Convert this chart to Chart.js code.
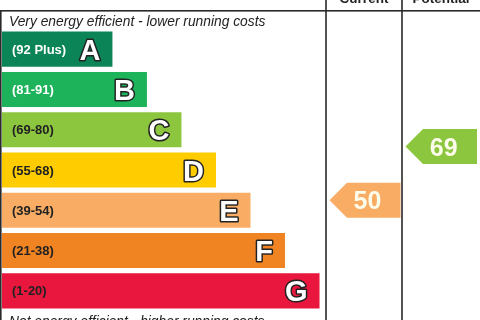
<!DOCTYPE html>
<html>
<head>
<meta charset="utf-8">
<script src="https://cdn.jsdelivr.net/npm/chart.js@4/dist/chart.umd.min.js"></script>
<style>
  html, body { margin: 0; padding: 0; background: #fff; }
  #epc { display: block; }
</style>
</head>
<body>
<canvas id="epc" width="480" height="320"></canvas>
<script>
/* EPC rating chart: bands A-G, current + potential arrows */

const bands = ['A', 'B', 'C', 'D', 'E', 'F', 'G'];
const ranges = ['(92 Plus)', '(81-91)', '(69-80)', '(55-68)', '(39-54)', '(21-38)', '(1-20)'];
const bandMin = [92, 81, 69, 55, 39, 21, 1];
const bandMax = [100, 91, 80, 68, 54, 38, 20];
const barLengths = [32, 42, 52, 62, 72, 82, 92];
const bandColors = ['#0b8457', '#1db35b', '#8cc63f', '#ffcc00', '#f9ac64', '#f08423', '#e9173d'];
const labelColors = ['#ffffff', '#ffffff', '#222222', '#222222', '#222222', '#222222', '#222222'];
const headers = ['Current', 'Potential'];
const scores = [50, 69];   // current, potential

const FONT = "'Liberation Sans', Arial, sans-serif";

function bandOf(score) {
  return bandMin.findIndex((m, i) => score >= m && score <= bandMax[i]);
}

const epcPlugin = {
  id: 'epc',
  afterDatasetsDraw(chart) {
    const ctx = chart.ctx;
    const meta = chart.getDatasetMeta(0);
    const y = chart.scales.y;
    const W = chart.width, H = chart.height;
    const cols = [[326, 402], [402, W]];

    ctx.save();

    // band labels + grade letters
    meta.data.forEach((bar, i) => {
      const cy = bar.y;
      ctx.font = `bold 13px ${FONT}`;
      ctx.fillStyle = labelColors[i];
      ctx.textAlign = 'left';
      ctx.textBaseline = 'alphabetic';
      ctx.fillText(ranges[i], 12, cy + 4.5);

      ctx.font = `bold 29px ${FONT}`;
      ctx.textAlign = 'right';
      ctx.lineJoin = 'round';
      ctx.lineWidth = 3;
      ctx.strokeStyle = '#222';
      ctx.strokeText(bands[i], bar.x - 12, cy + 10.5);
      ctx.fillStyle = '#fff';
      ctx.fillText(bands[i], bar.x - 12, cy + 10.5);
    });

    // table lines
    ctx.fillStyle = '#2a2a2a';
    ctx.fillRect(0, 10, W, 1.6);
    ctx.fillRect(0, 10, 1.6, H - 10);
    cols.forEach(c => ctx.fillRect(c[0] - 0.8, 0, 1.6, H));

    // header text (mostly cut off at top)
    ctx.font = `bold 13.5px ${FONT}`;
    ctx.textAlign = 'center';
    ctx.fillStyle = '#222';
    headers.forEach((h, k) => ctx.fillText(h, (cols[k][0] + cols[k][1]) / 2, 2.5));

    // top / bottom captions
    ctx.font = `italic 13.8px ${FONT}`;
    ctx.textAlign = 'left';
    ctx.fillText('Very energy efficient - lower running costs', 9, 26);
    ctx.fillText('Not energy efficient - higher running costs', 9, 326);

    // score arrows
    const halfH = meta.data[0].height / 2;
    scores.forEach((s, k) => {
      const b = bandOf(s);
      const pos = b - 0.5 + (bandMax[b] - s) / (bandMax[b] - bandMin[b] + 1);
      const cy = y.getPixelForValue(pos);
      const left = cols[k][0] + 3.5;
      const right = cols[k][1] - (k === 0 ? 1.5 : 3);
      ctx.beginPath();
      ctx.moveTo(left, cy);
      ctx.lineTo(left + halfH, cy - halfH);
      ctx.lineTo(right, cy - halfH);
      ctx.lineTo(right, cy + halfH);
      ctx.lineTo(left + halfH, cy + halfH);
      ctx.closePath();
      ctx.fillStyle = bandColors[b];
      ctx.fill();

      ctx.font = `bold 25px ${FONT}`;
      ctx.textAlign = 'center';
      ctx.fillStyle = '#fdfbe9';
      ctx.fillText(String(s), (left + right) / 2 + 2.5, cy + 9);
    });

    ctx.restore();
  }
};

new Chart(document.getElementById('epc'), {
  type: 'bar',
  data: {
    labels: bands,
    datasets: [{
      data: barLengths,
      backgroundColor: bandColors,
      borderWidth: 0,
      barPercentage: 0.87,
      categoryPercentage: 1
    }]
  },
  options: {
    indexAxis: 'y',
    responsive: false,
    animation: false,
    devicePixelRatio: 1,
    layout: { padding: { top: 29, bottom: 9, left: 2, right: 0 } },
    scales: {
      x: { display: false, min: 0, max: 138.5 },
      y: { display: false }
    },
    plugins: { legend: { display: false }, tooltip: { enabled: false } }
  },
  plugins: [epcPlugin]
});
</script>
</body>
</html>
